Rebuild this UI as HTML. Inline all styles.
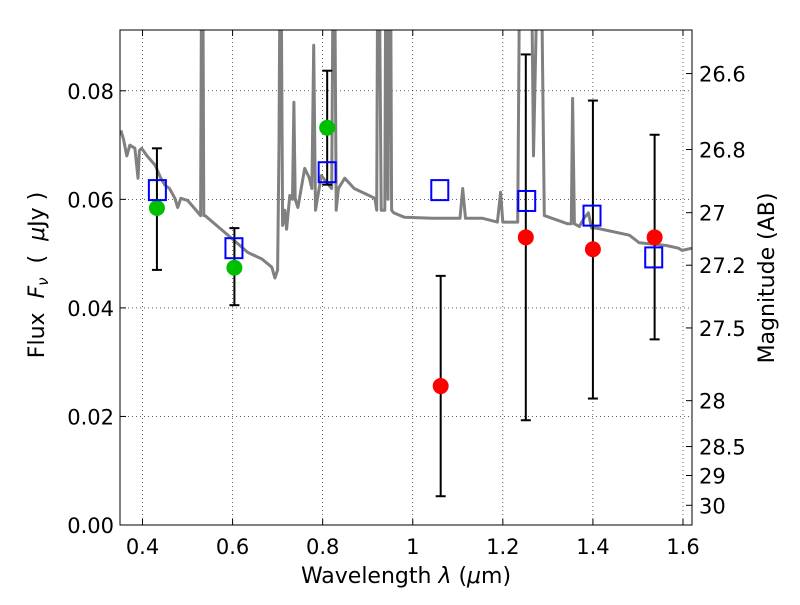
<!DOCTYPE html>
<html><head><meta charset="utf-8"><style>
body{margin:0;background:#fff}
svg text{font-family:"DejaVu Sans","Liberation Sans",sans-serif;fill:#000}
</style></head><body>
<svg id="chart" width="800" height="600" viewBox="0 0 800 600" xmlns="http://www.w3.org/2000/svg">
<defs><clipPath id="plotclip"><rect x="120" y="30" width="572" height="495"/></clipPath></defs>
<rect x="0" y="0" width="800" height="600" fill="#fff"/>
<g id="grid"></g>
<g id="spec" clip-path="url(#plotclip)"></g>
<g id="marks"></g>
<rect x="120" y="30" width="572" height="495" fill="none" stroke="#000" stroke-width="1"/>
<g id="axes"></g>
<text x="406" y="583" font-size="22" text-anchor="middle">Wavelength  <tspan font-style="italic">λ</tspan> (<tspan font-style="italic">μ</tspan>m)</text>
<text transform="translate(44,275) rotate(-90)" font-size="22" text-anchor="middle" xml:space="preserve">Flux  <tspan font-style="italic">F</tspan><tspan font-style="italic" font-size="15" dy="4">ν</tspan><tspan dy="-4">  (  </tspan><tspan font-style="italic">μ</tspan>Jy )</text>
<text transform="translate(774,278) rotate(-90)" font-size="22" text-anchor="middle">Magnitude (AB)</text>
</svg>
<script>
const xTicks=[0.4,0.6,0.8,1.0,1.2,1.4,1.6];
const xTickLabels=["0.4","0.6","0.8","1","1.2","1.4","1.6"];
const yTicks=[0,0.02,0.04,0.06,0.08];
const yTickLabels=["0.00","0.02","0.04","0.06","0.08"];
const magTicks=[26.6,26.8,27,27.2,27.5,28,28.5,29,30];
const magTickLabels=["26.6","26.8","27","27.2","27.5","28","28.5","29","30"];
const specWave=[0.352,0.358,0.365,0.372,0.383,0.39,0.393,0.398,0.41,0.428,0.44,0.45,0.46,0.472,0.478,0.485,0.5,0.523,0.529,0.531,0.534,0.536,0.539,0.56,0.598,0.634,0.665,0.687,0.694,0.7,0.703,0.705,0.708,0.711,0.716,0.72,0.727,0.733,0.736,0.739,0.745,0.76,0.77,0.776,0.78,0.784,0.797,0.81,0.82,0.823,0.827,0.83,0.835,0.849,0.87,0.893,0.916,0.92,0.922,0.926,0.93,0.938,0.94,0.945,0.947,0.951,0.953,0.958,0.982,1.044,1.105,1.111,1.117,1.155,1.188,1.195,1.2,1.233,1.237,1.264,1.268,1.276,1.286,1.292,1.344,1.352,1.355,1.359,1.37,1.38,1.39,1.397,1.408,1.481,1.503,1.563,1.59,1.598,1.62];
const specFlux=[0.0727,0.071,0.068,0.07,0.0694,0.0639,0.069,0.0694,0.068,0.0663,0.064,0.0626,0.062,0.0602,0.0585,0.0602,0.0598,0.0576,0.057,0.10,0.10,0.057,0.057,0.0555,0.0528,0.0502,0.049,0.0475,0.0455,0.047,0.07,0.10,0.10,0.0552,0.058,0.0545,0.0607,0.06,0.0779,0.06,0.0585,0.0657,0.064,0.062,0.0884,0.058,0.0644,0.063,0.062,0.10,0.10,0.058,0.062,0.0639,0.062,0.0611,0.0602,0.058,0.10,0.10,0.058,0.058,0.10,0.06,0.10,0.10,0.058,0.0575,0.0567,0.0565,0.0565,0.062,0.0565,0.0565,0.0558,0.0613,0.0558,0.0558,0.10,0.10,0.068,0.10,0.10,0.057,0.0555,0.0555,0.0786,0.0555,0.055,0.0565,0.0575,0.0547,0.0547,0.0534,0.052,0.0515,0.051,0.0506,0.051];
const greenWave=[0.432,0.604,0.81];
const greenFlux=[0.0584,0.0474,0.0732];
const greenLo=[0.047,0.0405,0.0627];
const greenHi=[0.0694,0.0547,0.0837];
const redWave=[1.062,1.251,1.40,1.537];
const redFlux=[0.0256,0.053,0.0508,0.053];
const redLo=[0.0053,0.0193,0.0233,0.0342];
const redHi=[0.0459,0.0867,0.0782,0.0719];
const modelWave=[0.433,0.603,0.81,1.06,1.253,1.398,1.535];
const modelFlux=[0.0617,0.051,0.065,0.0617,0.0597,0.057,0.0493];

const X0=120,X1=692,Y0=525,Y1=30,xmin=0.35,xmax=1.62,ymin=0,ymax=0.0912;
const sx=v=>X0+(v-xmin)/(xmax-xmin)*(X1-X0);
const sy=v=>Y0-(v-ymin)/(ymax-ymin)*(Y0-Y1);
const NS="http://www.w3.org/2000/svg";
function mk(tag,attrs,parent){const e=document.createElementNS(NS,tag);for(const k in attrs)e.setAttribute(k,attrs[k]);parent.appendChild(e);return e;}
const grid=document.getElementById('grid'),axes=document.getElementById('axes'),spec=document.getElementById('spec'),marks=document.getElementById('marks');

xTicks.forEach((t,i)=>{const x=sx(t);
 let g=mk('line',{x1:x,x2:x,y1:Y1,y2:Y0,stroke:'#000','stroke-width':0.6,'stroke-dasharray':'1,3'},grid);
 
 
 let a=mk('line',{x1:x,x2:x,y1:Y0,y2:Y0-6,stroke:'#000'},axes);
 
 
 let b=mk('line',{x1:x,x2:x,y1:Y1,y2:Y1+6,stroke:'#000'},axes);
 
 
 let l=mk('text',{x:x,y:554,'font-size':21,'text-anchor':'middle'},axes);l.textContent=xTickLabels[i];
 
 
});
yTicks.forEach((t,i)=>{const y=sy(t);
 let g=mk('line',{x1:X0,x2:X1,y1:y,y2:y,stroke:'#000','stroke-width':0.6,'stroke-dasharray':'1,3'},grid);
 
 
 let a=mk('line',{x1:X0,x2:X0+6,y1:y,y2:y,stroke:'#000'},axes);
 
 
 let l=mk('text',{x:114,y:y+8,'font-size':21,'text-anchor':'end'},axes);l.textContent=yTickLabels[i];
 
 
});
magTicks.forEach((m,i)=>{const f=Math.pow(10,(23.9-m)/2.5);const y=sy(f);
 let a=mk('line',{x1:X1-6,x2:X1,y1:y,y2:y,stroke:'#000'},axes);
 
 
 let l=mk('text',{x:699,y:y+8,'font-size':21,'text-anchor':'start'},axes);l.textContent=magTickLabels[i];
 
 
});
const pts=specWave.map((w,i)=>sx(w).toFixed(1)+','+sy(specFlux[i]).toFixed(1)).join(' ');
const pl=mk('polyline',{points:pts,fill:'none',stroke:'#808080','stroke-width':3,'stroke-linejoin':'round'},spec);



function errbar(w,lo,hi){const x=sx(w);
 let l=mk('line',{x1:x,x2:x,y1:sy(lo),y2:sy(hi),stroke:'#000','stroke-width':2},marks);
 
 
 [lo,hi].forEach(v=>{let c=mk('line',{x1:x-5,x2:x+5,y1:sy(v),y2:sy(v),stroke:'#000','stroke-width':2},marks);
  
  });
}
greenWave.forEach((w,i)=>errbar(w,greenLo[i],greenHi[i]));
redWave.forEach((w,i)=>errbar(w,redLo[i],redHi[i]));
greenWave.forEach((w,i)=>{let c=mk('circle',{cx:sx(w),cy:sy(greenFlux[i]),r:8,fill:'#00bf00'},marks);
 
 });
redWave.forEach((w,i)=>{let c=mk('circle',{cx:sx(w),cy:sy(redFlux[i]),r:8,fill:'#ff0000'},marks);
 
 });
modelWave.forEach((w,i)=>{let r=mk('rect',{x:sx(w)-8.5,y:sy(modelFlux[i])-10,width:17,height:20,fill:'none',stroke:'#0000ff','stroke-width':2},marks);
 
 });
</script>
</body></html>
